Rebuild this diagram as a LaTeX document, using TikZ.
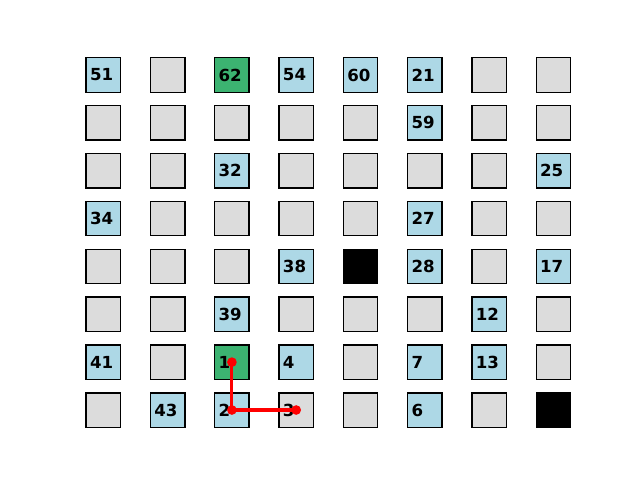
\documentclass[tikz,border=0pt]{standalone}
\usepackage{fontspec}
\setmainfont{DejaVu Sans}
\definecolor{cgray}{HTML}{DCDCDC}
\definecolor{cblue}{HTML}{ADD8E6}
\definecolor{cgreen}{HTML}{3CB371}
\tikzset{
  cell/.style={draw=black, line width=1pt, minimum size=0.344in, inner sep=0pt, outer sep=0pt},
  lbl/.style={anchor=west, inner sep=0pt, font=\bfseries\fontsize{12}{14}\selectfont},
  route/.style={draw=red, line width=2.2pt},
  dot/.style={fill=red}
}
\begin{document}
\begin{tikzpicture}[x=0.01in, y=-0.01in]
\useasboundingbox (0,0) rectangle (640,480);
\foreach \c/\r/\f in {
 1/1/cblue, 2/1/cgray, 3/1/cgreen, 4/1/cblue, 5/1/cblue, 6/1/cblue, 7/1/cgray, 8/1/cgray,
 1/2/cgray, 2/2/cgray, 3/2/cgray, 4/2/cgray, 5/2/cgray, 6/2/cblue, 7/2/cgray, 8/2/cgray,
 1/3/cgray, 2/3/cgray, 3/3/cblue, 4/3/cgray, 5/3/cgray, 6/3/cgray, 7/3/cgray, 8/3/cblue,
 1/4/cblue, 2/4/cgray, 3/4/cgray, 4/4/cgray, 5/4/cgray, 6/4/cblue, 7/4/cgray, 8/4/cgray,
 1/5/cgray, 2/5/cgray, 3/5/cgray, 4/5/cblue, 5/5/black, 6/5/cblue, 7/5/cgray, 8/5/cblue,
 1/6/cgray, 2/6/cgray, 3/6/cblue, 4/6/cgray, 5/6/cgray, 6/6/cgray, 7/6/cblue, 8/6/cgray,
 1/7/cblue, 2/7/cgray, 3/7/cgreen, 4/7/cblue, 5/7/cgray, 6/7/cblue, 7/7/cblue, 8/7/cgray,
 1/8/cgray, 2/8/cblue, 3/8/cblue, 4/8/cgray, 5/8/cgray, 6/8/cblue, 7/8/cgray, 8/8/black}
{
  \pgfmathsetmacro{\px}{103.3+64.3*(\c-1)}
  \pgfmathsetmacro{\py}{75+47.86*(\r-1)}
  \node[cell, fill=\f] (s\c\r) at (\px,\py) {};
}
\foreach \c/\r/\t in {
 1/1/51, 3/1/62, 4/1/54, 5/1/60, 6/1/21,
 6/2/59,
 3/3/32, 8/3/25,
 1/4/34, 6/4/27,
 4/5/38, 6/5/28, 8/5/17,
 3/6/39, 7/6/12,
 1/7/41, 3/7/1, 4/7/4, 6/7/7, 7/7/13,
 2/8/43, 3/8/2, 4/8/3, 6/8/6}
{
  \node[lbl] (t\c\r) at ([xshift=-0.135in]s\c\r.center) {\t};
}
\draw[route] (s37.center) -- (s38.center) -- (s48.center);
\foreach \n in {s37, s38, s48} { \fill[dot] (\n.center) circle (3.5pt); }
\end{tikzpicture}
\end{document}
